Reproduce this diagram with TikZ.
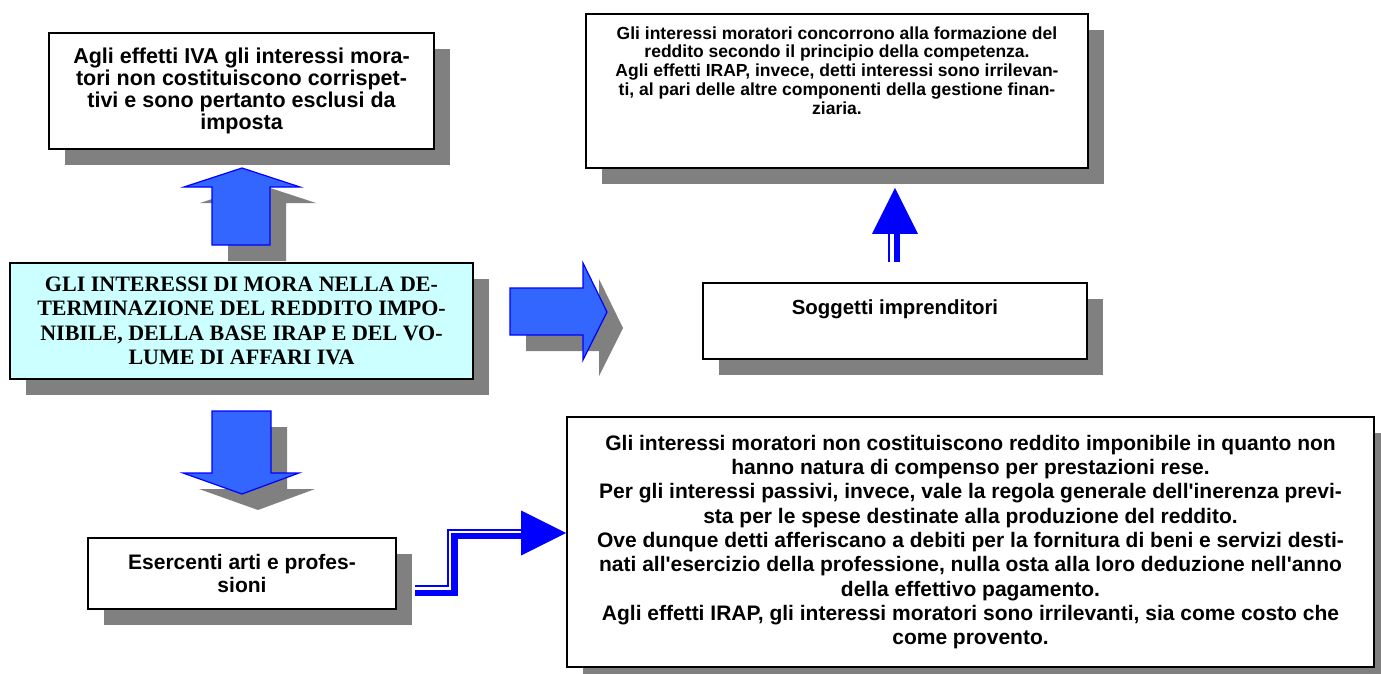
\documentclass[tikz,border=0pt]{standalone}
\usepackage{fontspec}
\newfontfamily\sansf{Liberation Sans}
\newfontfamily\seriff{Liberation Serif}
\usetikzlibrary{shadows,calc}
\definecolor{shadowgray}{HTML}{808080}
\definecolor{arrowfill}{HTML}{3366FF}
\definecolor{arrowline}{HTML}{0000FF}
\definecolor{maincyan}{HTML}{CCFFFF}
\begin{document}
\begin{tikzpicture}[x=1pt,y=-1pt,
  shadowed/.style={drop shadow={shadow xshift=16pt,shadow yshift=-16pt,opacity=1,fill=shadowgray}},
  box/.style={shadowed,draw=black,line width=1.6pt,fill=white,inner sep=0pt,align=center},
  txt/.style={inner sep=0pt,align=center},
  blockarrow/.style={shadowed,fill=arrowfill,draw=arrowline,line width=1.2pt,line join=miter},
  thinline/.style={draw=arrowline,line width=2pt},
  thickline/.style={draw=arrowline,line width=6.8pt},
  headtri/.style={fill=arrowline},
]
\useasboundingbox (0,0) rectangle (1381,674);

% boxes
\node[box,minimum width=385pt,minimum height=116pt,
      font={\sansf\bfseries\fontsize{21.5pt}{22pt}\selectfont}] (iva) at (241.5,91)
  {Agli effetti IVA gli interessi mora-\\tori non costituiscono corrispet-\\tivi e sono pertanto esclusi da\\imposta};

\node[box,fill=maincyan,minimum width=463pt,minimum height=116pt,
      font={\seriff\bfseries\fontsize{22pt}{24.5pt}\selectfont}] (main) at (241.5,321)
  {GLI INTERESSI DI MORA NELLA DE-\\TERMINAZIONE DEL REDDITO IMPO-\\NIBILE, DELLA BASE IRAP E DEL VO-\\LUME DI AFFARI IVA};

\node[box,minimum width=308pt,minimum height=71pt,
      font={\sansf\bfseries\fontsize{21pt}{23pt}\selectfont}] (ese) at (242,573.5)
  {Esercenti arti e profes-\\sioni};

\node[box,minimum width=502pt,minimum height=154pt] (tr) at (837,91) {};
\node[txt,anchor=north,font={\sansf\bfseries\fontsize{17.5pt}{18.8pt}\selectfont}] (trtext)
  at ([yshift=-13pt]tr.north)
  {Gli interessi moratori concorrono alla formazione del\\reddito secondo il principio della competenza.\\Agli effetti IRAP, invece, detti interessi sono irrilevan-\\ti, al pari delle altre componenti della gestione finan-\\ziaria.};

\node[box,minimum width=384pt,minimum height=76pt] (sog) at (895,321) {};
\node[txt,anchor=north,font={\sansf\bfseries\fontsize{20.4pt}{22pt}\selectfont}] (sogtext)
  at ([yshift=-17pt]sog.north) {Soggetti imprenditori};

\node[box,minimum width=807pt,minimum height=250pt,
      font={\sansf\bfseries\fontsize{21pt}{24.3pt}\selectfont}] (br) at (970.5,542)
  {Gli interessi moratori non costituiscono reddito imponibile in quanto non\\
   hanno natura di compenso per prestazioni rese.\\
   Per gli interessi passivi, invece, vale la regola generale dell'inerenza previ-\\
   sta per le spese destinate alla produzione del reddito.\\
   Ove dunque detti afferiscano a debiti per la fornitura di beni e servizi desti-\\
   nati all'esercizio della professione, nulla osta alla loro deduzione nell'anno\\
   della effettivo pagamento.\\
   Agli effetti IRAP, gli interessi moratori sono irrilevanti, sia come costo che\\
   come provento.};

% block arrows
\draw[blockarrow] (212,245) -- (212,187) -- (184,187) -- (242,168) -- (300,187) -- (270,187) -- (270,245) -- cycle;
\draw[blockarrow] (212,411) -- (271,411) -- (271,473) -- (299,473) -- (242,494) -- (183,473) -- (212,473) -- cycle;
\draw[blockarrow] (510,288) -- (583,288) -- (583,263) -- (607,312) -- (583,360) -- (583,335) -- (510,335) -- cycle;

% connector Soggetti -> top right box
\coordinate (supbot) at ($(sog.north)+(0,-20)$);
\coordinate (suptip) at ($(sog.north |- tr.south)+(0,19)$);
\draw[thinline] ($(supbot)+(-5.7,0)$) -- ($(supbot)+(-5.7,-31)$);
\draw[thickline] ($(supbot)+(2,0)$) -- ($(supbot)+(2,-31)$);
\fill[headtri] ($(suptip)+(-23,46)$) -- (suptip) -- ($(suptip)+(23,46)$) -- cycle;

% connector Esercenti -> bottom right box
\coordinate (estart) at ($(ese.east)+(18,16)$);
\coordinate (etip) at ($(br.west)+(0,-9)$);
\coordinate (ehead) at ($(etip)+(-45,0)$);
\draw[thinline] ($(estart)+(0,-3.5)$) -| ($(ehead)+(-73.5,-3.5)$) -- ($(ehead)+(0,-3.5)$);
\draw[thickline,line join=miter] ($(estart)+(0,3.5)$) -| ($(ehead)+(-66.5,3)$) -- ($(ehead)+(1,3)$);
\fill[headtri] ($(ehead)+(0,-22.5)$) -- (etip) -- ($(ehead)+(0,22.5)$) -- cycle;
\end{tikzpicture}
\end{document}
